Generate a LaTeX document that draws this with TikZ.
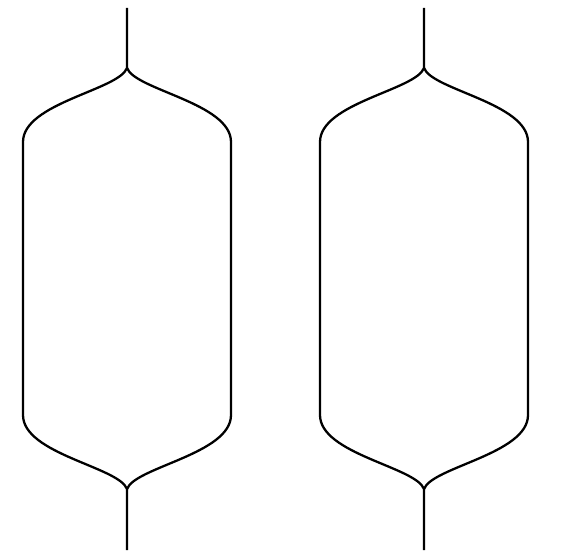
\documentclass[tikz,border=0pt]{standalone}
\usepackage{tikz}

\tikzset{
    stem/.style={line width=1.3pt},
    vessel/.pic={
        \draw[stem, line join=round] (0,8) -- (0,68)
            .. controls (-8,90) and (-104,103) .. (-104,142) -- (-104,415)
            .. controls (-104,454) and (-8,467) .. (0,489) -- (0,550);
        \draw[stem, line join=round] (0,68)
            .. controls (8,90) and (104,103) .. (104,142) -- (104,415)
            .. controls (104,454) and (8,467) .. (0,489);
    }
}

\begin{document}
\begin{tikzpicture}[x=0.02cm, y=-0.02cm]
        \useasboundingbox (0,0) rectangle (563,557);
        \pic (left) at (127,0) {vessel};
        \pic (right) at (424,0) {vessel};
    \end{tikzpicture}
\end{document}
